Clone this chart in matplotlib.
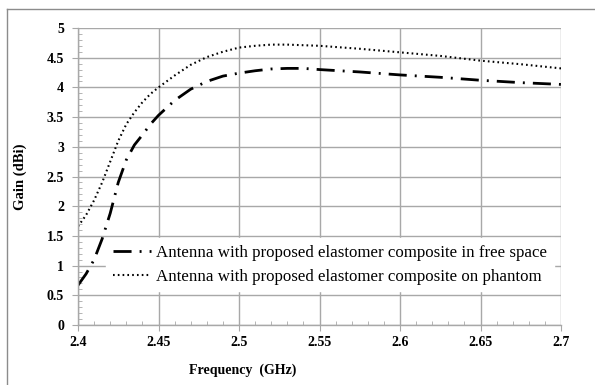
import matplotlib.pyplot as plt
from matplotlib.lines import Line2D
from matplotlib.ticker import MultipleLocator

# Frequency (GHz)
freq = [2.400, 2.405, 2.410, 2.415, 2.420, 2.425, 2.430, 2.435, 2.440, 2.445,
        2.450, 2.460, 2.470, 2.480, 2.490, 2.500, 2.510, 2.520, 2.530, 2.540,
        2.550, 2.575, 2.600, 2.625, 2.650, 2.675, 2.700]

# Gain (dBi)
gain_free_space = [0.67, 0.86, 1.10, 1.45, 1.88, 2.40, 2.78, 3.03, 3.20, 3.38,
                   3.53, 3.78, 3.97, 4.10, 4.19, 4.24, 4.28, 4.31, 4.32, 4.32,
                   4.30, 4.26, 4.21, 4.17, 4.12, 4.08, 4.05]
gain_phantom = [1.66, 1.85, 2.10, 2.40, 2.75, 3.10, 3.38, 3.58, 3.75, 3.89,
                4.00, 4.20, 4.38, 4.51, 4.60, 4.67, 4.70, 4.72, 4.72, 4.71,
                4.70, 4.65, 4.59, 4.53, 4.45, 4.39, 4.32]

labels = ["Antenna with proposed elastomer composite in free space",
          "Antenna with proposed elastomer composite on phantom"]

x_ticks = [2.4, 2.45, 2.5, 2.55, 2.6, 2.65, 2.7]
x_tick_labels = ["2.4", "2.45", "2.5", "2.55", "2.6", "2.65", "2.7"]
y_ticks = [0, 0.5, 1, 1.5, 2, 2.5, 3, 3.5, 4, 4.5, 5]
y_tick_labels = ["0", "0.5", "1", "1.5", "2", "2.5", "3", "3.5", "4", "4.5", "5"]

plt.rcParams["font.family"] = ["Liberation Serif", "DejaVu Serif"]
grid_color = "#A8A8A8"

fig = plt.figure(figsize=(5.95, 3.85), dpi=100)
ax = fig.add_axes([0.1311, 0.1558, 0.8118, 0.7715])

ax.plot(freq, gain_free_space, color="black", lw=2.0,
        dashes=(6.5, 2.9, 0.7, 2.9), label=labels[0])
ax.plot(freq, gain_phantom, color="black", lw=1.5,
        dashes=(0.8, 1.5), label=labels[1])

ax.set_xlim(2.4, 2.7)
ax.set_ylim(0, 5)
ax.set_xticks(x_ticks)
ax.set_xticklabels(x_tick_labels)
ax.set_yticks(y_ticks)
ax.set_yticklabels(y_tick_labels)
ax.xaxis.set_minor_locator(MultipleLocator(0.01))
ax.yaxis.set_minor_locator(MultipleLocator(0.1))

ax.grid(True, which="major", color=grid_color, lw=1.0)
ax.set_axisbelow(True)
for side, spine in ax.spines.items():
    spine.set_color(grid_color)
    spine.set_linewidth(1.0)
ax.spines["top"].set_visible(False)
ax.spines["right"].set_visible(False)

ax.tick_params(which="major", direction="out", length=4, color=grid_color,
               labelsize=10)
ax.tick_params(axis="y", which="major", pad=6)
ax.tick_params(axis="x", which="major", pad=4)
ax.tick_params(which="minor", direction="in", length=3, color=grid_color)
for lab in ax.get_xticklabels() + ax.get_yticklabels():
    lab.set_fontweight("bold")

ax.set_xlabel("Frequency  (GHz)", fontsize=10, fontweight="bold")
ax.xaxis.set_label_coords(0.34, -0.13)
ax.set_ylabel("Gain (dBi)", fontsize=10.5, fontweight="bold")
ax.yaxis.set_label_coords(-0.105, 0.5)

leg = ax.legend(loc="upper left", bbox_to_anchor=(0.058, 0.292), fontsize=12.2,
                frameon=True, fancybox=False, framealpha=1.0,
                edgecolor="white", facecolor="white", handlelength=2.25,
                handletextpad=0.3, borderpad=0.4, labelspacing=0.45,
                borderaxespad=0)

# outer chart frame (top and left edges visible)
fig.add_artist(Line2D([7 / 595, 7 / 595], [0, 1 - 9 / 385],
                      transform=fig.transFigure, color="#8C8C8C", lw=1.0))
fig.add_artist(Line2D([7 / 595, 1], [1 - 9 / 385, 1 - 9 / 385],
                      transform=fig.transFigure, color="#8C8C8C", lw=1.0))

fig.savefig("out.png", dpi=100)
